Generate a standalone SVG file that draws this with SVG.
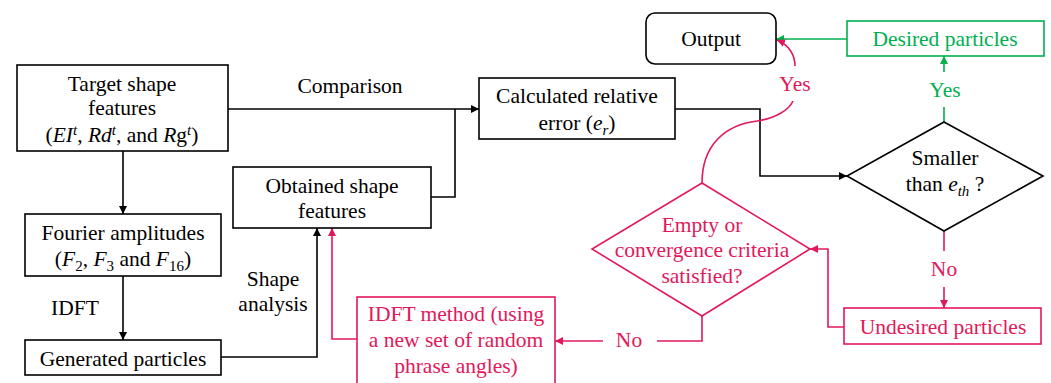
<svg xmlns="http://www.w3.org/2000/svg" width="1051" height="383" viewBox="0 0 1051 383" font-family="Liberation Serif, DejaVu Serif, serif">
<defs>
<style>
text{font-family:'Liberation Serif','DejaVu Serif',serif;font-size:21.5px;text-anchor:middle;fill:#000}
.r text, text.r{fill:#E2185B}
.g text, text.g{fill:#00B050}
.box{fill:#fff;stroke:#000;stroke-width:1.6}
.rbox{fill:#fff;stroke:#E2185B;stroke-width:1.6}
.gbox{fill:#fff;stroke:#00B050;stroke-width:1.6}
.c{fill:none;stroke:#000;stroke-width:1.6}
.cr{fill:none;stroke:#E2185B;stroke-width:1.6}
.cg{fill:none;stroke:#00B050;stroke-width:1.6}
.i{font-style:italic}
.s{font-size:15px}
</style>
<marker id="ab" viewBox="0 0 10 10" refX="10" refY="5" markerWidth="8" markerHeight="8" markerUnits="userSpaceOnUse" orient="auto"><path d="M0,0 L10,5 L0,10 z" fill="#000"/></marker>
<marker id="ar" viewBox="0 0 10 10" refX="10" refY="5" markerWidth="8" markerHeight="8" markerUnits="userSpaceOnUse" orient="auto"><path d="M0,0 L10,5 L0,10 z" fill="#E2185B"/></marker>
<marker id="ag" viewBox="0 0 10 10" refX="10" refY="5" markerWidth="8" markerHeight="8" markerUnits="userSpaceOnUse" orient="auto"><path d="M0,0 L10,5 L0,10 z" fill="#00B050"/></marker>
</defs>

<g id="connectors">
<path class="c" d="M123,151 V214" marker-end="url(#ab)"/>
<path class="c" d="M123,276 V340" marker-end="url(#ab)"/>
<path class="c" d="M221,357 H317 V228" marker-end="url(#ab)"/>
<path class="c" d="M228,109 H479" marker-end="url(#ab)"/>
<path class="c" d="M431,197 H455 V109"/>
<path class="c" d="M675,109 H760 V176 H847" marker-end="url(#ab)"/>
<path class="cg" d="M944,122 V107"/>
<path class="cg" d="M944,72 V56" marker-end="url(#ag)"/>
<path class="cg" d="M847,39 H776" marker-end="url(#ag)"/>
<path class="cr" d="M944,231 V251"/>
<path class="cr" d="M944,287 V308" marker-end="url(#ar)"/>
<path class="cr" d="M844,327 H828 V249 H810" marker-end="url(#ar)"/>
<path class="cr" d="M702,316 V341 H657"/>
<path class="cr" d="M603,341 H555" marker-end="url(#ar)"/>
<path class="cr" d="M357,339 H332 V228" marker-end="url(#ar)"/>
<path class="cr" d="M702,183 C702,145 725,125 757,121 C776,118 789,110 793,101"/>
<path class="cr" d="M795,66 C795,55 789,45 777,40" marker-end="url(#ar)"/>
<text x="350" y="93">Comparison</text>
<text x="75" y="315">IDFT</text>
<text x="273" y="286">Shape</text>
<text x="273" y="311">analysis</text>
<text class="g" x="945" y="97">Yes</text>
<text class="r" x="795" y="91">Yes</text>
<text class="r" x="944" y="276">No</text>
<text class="r" x="629" y="347">No</text>
</g>

<g id="target">
<rect class="box" x="17" y="65" width="211" height="86"/>
<text x="122" y="91">Target shape</text>
<text x="122" y="115">features</text>
<text x="122" y="142">(<tspan class="i">EI</tspan><tspan class="i s" dy="-7">t</tspan><tspan dy="7">, </tspan><tspan class="i">Rd</tspan><tspan class="i s" dy="-7">t</tspan><tspan dy="7">, and </tspan><tspan class="i">R</tspan>g<tspan class="i s" dy="-7">t</tspan><tspan dy="7">)</tspan></text>
</g>

<g id="fourier">
<rect class="box" x="25" y="214" width="196" height="62"/>
<text x="123" y="240">Fourier amplitudes</text>
<text x="123" y="266">(<tspan class="i">F</tspan><tspan class="s" dy="5">2</tspan><tspan dy="-5">, </tspan><tspan class="i">F</tspan><tspan class="s" dy="5">3</tspan><tspan dy="-5"> and </tspan><tspan class="i">F</tspan><tspan class="s" dy="5">16</tspan><tspan dy="-5">)</tspan></text>
</g>

<g id="generated">
<rect class="box" x="25" y="340" width="196" height="35"/>
<text x="123" y="366">Generated particles</text>
</g>

<g id="obtained">
<rect class="box" x="233" y="167" width="198" height="61"/>
<text x="332" y="193">Obtained shape</text>
<text x="332" y="218">features</text>
</g>

<g id="calculated">
<rect class="box" x="479" y="78" width="196" height="61"/>
<text x="577" y="103">Calculated relative</text>
<text x="577" y="130">error (<tspan class="i">e</tspan><tspan class="i s" dy="5">r</tspan><tspan dy="-5">)</tspan></text>
</g>

<g id="output">
<rect class="box" x="646" y="13" width="130" height="51" rx="9"/>
<text x="711" y="46">Output</text>
</g>

<g id="desired" class="g">
<rect class="gbox" x="847" y="21" width="197" height="35"/>
<text x="945" y="46">Desired particles</text>
</g>

<g id="smaller">
<path class="box" d="M944,122 L1043,176 L944,231 L847,176 Z"/>
<text x="945" y="165">Smaller</text>
<text x="945" y="191">than <tspan class="i">e</tspan><tspan class="i s" dy="5">th</tspan><tspan dy="-5"> ?</tspan></text>
</g>

<g id="undesired" class="r">
<rect class="rbox" x="844" y="308" width="197" height="36"/>
<text x="943" y="334">Undesired particles</text>
</g>

<g id="empty" class="r">
<path class="rbox" d="M702,183 L810,249 L702,316 L592,249 Z"/>
<text x="702" y="232">Empty or</text>
<text x="702" y="257">convergence criteria</text>
<text x="702" y="283">satisfied?</text>
</g>

<g id="idft" class="r">
<rect class="rbox" x="357" y="297" width="198" height="92"/>
<text x="456" y="321">IDFT method (using</text>
<text x="456" y="347">a new set of random</text>
<text x="456" y="373">phrase angles)</text>
</g>
</svg>
